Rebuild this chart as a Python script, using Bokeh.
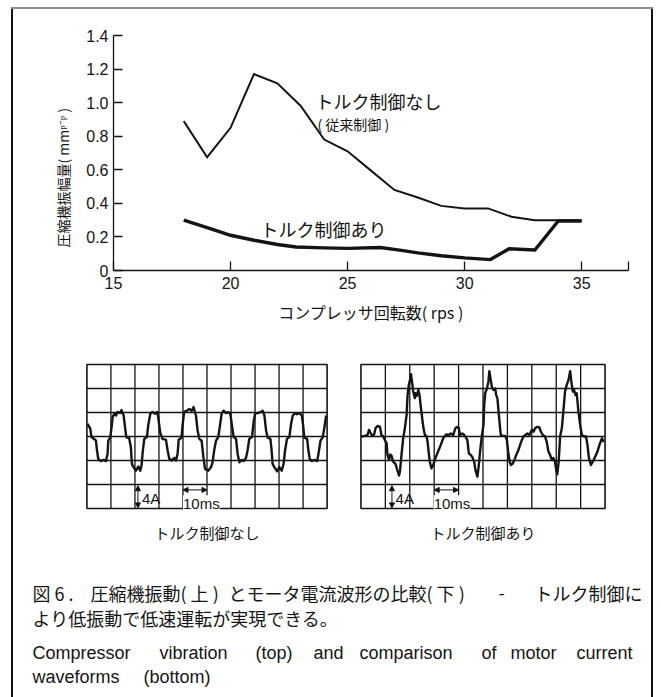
import math
from bokeh.plotting import figure
from bokeh.models import (Range1d, FixedTicker, Label, Arrow, NormalHead,
                          Spacer, PrintfTickFormatter)
from bokeh.layouts import column, row
from bokeh.embed import file_html
from bokeh.resources import INLINE

# ---------------- data ----------------
rps_no_ctrl = [18, 19, 20, 21, 22, 23, 24, 25, 26, 27, 28, 29, 30, 31, 32, 33, 34, 35]
amp_no_ctrl = [0.89, 0.675, 0.85, 1.17, 1.115, 0.98, 0.78, 0.71, 0.595, 0.48,
               0.435, 0.385, 0.37, 0.37, 0.32, 0.30, 0.30, 0.30]
rps_ctrl = [18, 19, 20, 21, 22, 22.8, 24, 25, 26.4, 27.3, 28, 29, 30, 31.1, 31.9, 33, 34, 35]
amp_ctrl = [0.30, 0.255, 0.21, 0.18, 0.155, 0.14, 0.135, 0.132, 0.137, 0.12,
            0.105, 0.088, 0.075, 0.065, 0.13, 0.122, 0.295, 0.295]
x_ticks = [15, 20, 25, 30, 35, 37]
y_ticks = [0, 0.2, 0.4, 0.6, 0.8, 1.0, 1.2, 1.4]

# oscillograms: time in ms (1 div = 10 ms), current in A (1 div = 4 A)
wave_no_ctrl_ms = [0.25, 1.4, 1.9, 3.0, 3.75, 4.2, 4.7, 5.8, 6.9, 7.9, 8.6, 8.9, 9.7, 10.3,
                   10.7, 11.4, 12.1, 12.8, 13.9, 14.4, 15.3, 15.8, 16.4, 17.6, 18.3, 18.75,
                   19.4, 20.4, 21.4, 22.2, 22.75, 23.3, 23.9, 25.0, 25.5, 26.4, 27.3, 28.3,
                   29.2, 29.7, 30.5, 31.5, 32.9, 33.6, 34.3, 35.2, 36.4, 37.1, 37.75, 38.2,
                   39.4, 39.8, 40.5, 41.7, 42.6, 43.6, 44.4, 45.4, 46.1, 46.8, 47.75, 48.5,
                   49.2, 50.5, 51.7, 52.3, 53.0, 53.75, 54.7, 55.5, 56.1, 56.9, 57.9, 58.9,
                   59.7, 60.3, 61.1, 62.1, 62.75, 63.5, 64.4, 65.3, 66.25, 66.9, 67.6, 68.75,
                   69.4, 70.0, 71.1, 72.2, 73.2, 73.9, 74.6, 75.25, 76.4, 76.9, 77.3, 78.0,
                   79.2, 80.1, 81.1, 81.9, 82.5, 83.3, 84.3, 85.0, 85.7, 86.7, 87.5, 88.5,
                   89.5, 90.1, 90.5, 91.7, 92.2, 92.75, 93.6, 94.75, 95.9, 96.4, 97.25, 98.2,
                   98.9, 99.6]
wave_no_ctrl_A = [2.1, 1.3, -0.1, -0.4, -0.7, -2.3, -3.7, -4.1, -3.9, -4.1, -2.9, -0.7, -0.2, 1.6,
                  3.2, 3.8, 3.5, 4.1, 3.9, 4.4, 3.5, 1.8, -0.1, -0.3, -1.8, -4.6,
                  -5.1, -5.7, -5.0, -5.7, -4.8, -2.3, -0.4, -0.1, 1.8, 3.8, 4.1, 3.8,
                  4.1, 3.2, 0.7, -0.4, -0.55, -2.3, -3.7, -4.0, -3.55, -4.0, -2.9, -0.55,
                  -0.2, 1.8, 4.1, 4.3, 4.6, 4.3, 4.9, 3.5, 1.0, -0.4, -0.7, -3.45,
                  -5.4, -5.7, -5.1, -4.3, -2.3, -0.7, -0.1, 2.1, 3.8, 4.3, 3.9, 4.05,
                  3.8, 2.1, -0.1, -0.4, -2.9, -4.3, -3.9, -4.1, -3.55, -2.3, -0.4, -0.1,
                  2.4, 3.8, 3.9, 4.05, 4.3, 3.5, 1.0, -0.2, -0.4, -2.3, -4.55, -5.1,
                  -5.8, -5.1, -5.7, -4.55, -2.3, -0.4, -0.1, 2.1, 3.5, 3.9, 3.7, 3.9,
                  3.5, 1.55, -0.2, -0.4, -2.3, -3.7, -4.1, -3.9, -4.1, -2.9, -0.7, -0.1,
                  1.55, 3.5]

wave_ctrl_ms = [0.25, 1.6, 2.7, 3.3, 4.1, 4.6, 5.4, 6.0, 6.8, 7.8, 8.4, 9.1, 9.8, 10.5,
                10.9, 11.5, 12.0, 12.5, 13.2, 14.2, 15.0, 15.6, 16.0, 16.6, 17.3, 18.0,
                18.7, 19.1, 19.6, 20.1, 20.5, 21.0, 21.4, 22.1, 22.35, 22.9, 23.5, 24.0,
                24.6, 25.1, 25.6, 26.2, 26.9, 27.3, 27.8, 28.2, 28.9, 29.6, 30.5, 31.6,
                32.7, 33.7, 34.4, 35.0, 36.0, 36.8, 37.8, 38.7, 39.5, 40.1, 40.5, 41.5,
                42.3, 42.8, 43.6, 44.2, 45.0, 45.6, 46.4, 46.9, 47.7, 48.3, 48.8, 49.5,
                50.2, 50.5, 50.9, 51.6, 52.2, 52.6, 53.2, 53.6, 54.3, 55.0, 55.4, 55.9,
                56.5, 57.0, 57.3, 58.1, 59.1, 59.8, 60.3, 60.9, 61.4, 62.2, 62.9, 63.6,
                64.5, 65.2, 65.9, 66.6, 67.4, 68.2, 69.0, 70.0, 70.7, 71.4, 72.3, 73.1,
                73.7, 74.5, 75.4, 76.1, 76.8, 77.5, 78.2, 78.8, 79.5, 79.9, 80.4, 81.0,
                81.6, 82.3, 82.9, 83.6, 84.3, 85.0, 85.7, 86.2, 86.8, 87.3, 87.9, 88.4,
                89.1, 89.8, 90.5, 91.4, 92.2, 92.8, 93.4, 94.2, 95.0, 95.9, 96.9, 97.7,
                98.7, 99.4]
wave_ctrl_A = [0.0, 0.1, 0.25, 1.1, 0.5, 0.1, 0.35, 1.4, 1.75, 1.6, 0.25, 0.0, -0.6, -1.1,
               -3.1, -3.9, -3.0, -3.2, -4.2, -4.6, -5.75, -6.5, -5.75, -3.1, -0.3, 1.4,
               3.6, 6.9, 8.6, 9.4, 10.4, 8.9, 7.5, 6.4, 7.2, 6.8, 7.75, 6.9,
               4.7, 3.0, 1.4, 0.25, 0.0, -0.9, -2.8, -4.2, -5.3, -4.75, -3.6, -2.5,
               -1.4, -0.3, 0.1, 0.35, 0.25, 0.5, 0.25, 1.4, 1.6, 1.4, 0.25, 0.5,
               0.25, 0.0, -0.6, -2.8, -3.1, -3.4, -4.2, -5.6, -6.7, -4.75, -2.5, 0.0,
               1.9, 5.25, 7.2, 8.0, 9.1, 10.9, 9.4, 8.3, 7.75, 8.0, 6.9, 6.4,
               3.6, 1.4, 0.25, 0.1, 0.1, -0.6, -2.5, -4.2, -4.75, -4.5, -3.9, -3.1,
               -2.25, -1.4, -0.6, 0.0, 0.25, 0.5, 0.25, 1.1, 0.8, 1.4, 1.6, 1.5,
               0.8, 0.25, 0.0, -0.9, -2.5, -3.1, -3.9, -3.6, -4.2, -5.3, -6.3, -4.2,
               0.0, 1.4, 4.1, 7.5, 8.6, 9.4, 10.9, 9.1, 7.5, 7.75, 6.9, 7.2,
               4.1, 1.9, 0.25, 0.0, 0.0, -1.4, -3.6, -4.75, -4.2, -3.4, -2.5, -1.4,
               -0.3, -0.9]

panel_ms = [0, 100]                # screen width: 10 divisions of 10 ms
panel_A = [-12, 12]                # screen height: 6 divisions of 4 A
time_grid_ms = [10, 20, 30, 40, 50, 60, 70, 80, 90]
current_grid_A = [-8, -4, 0, 4, 8]

label_no_ctrl = "トルク制御なし"
label_no_ctrl_sub = "( 従来制御 )"
label_ctrl = "トルク制御あり"
x_title = "コンプレッサ回転数( rps )"
y_title = "圧縮機振幅量( mmᵖ⁻ᵖ )"
scale_A = "4A"
scale_ms = "10ms"
caption_ja_1_parts = ["図 6 .", "圧縮機振動( 上 )", "とモータ電流波形の比較( 下 )", "-", "トルク制御に"]
caption_ja_2 = "より低振動で低速運転が実現できる。"
caption_en_1 = "Compressor vibration (top) and comparison of motor current"
caption_en_2 = "waveforms (bottom)"

INK = "#141414"
GRAY = "#8c8c8c"
JP = "Noto Sans CJK JP"
LAT = "Liberation Sans"
W = 638          # inner width between the frame lines


def base(width, height, xr, yr, **kw):
    p = figure(width=width, height=height, x_range=xr, y_range=yr,
               output_backend="svg", toolbar_location=None, **kw)
    p.background_fill_color = "white"
    p.border_fill_color = "white"
    return p


def put(p, x, y, txt, font, size, align="left", angle=0.0):
    p.add_layout(Label(x=x, y=y, text=txt, text_font=font, text_font_size=size,
                       text_color=INK, text_baseline="middle", text_align=align,
                       angle=angle))


# ---------------- main chart ----------------
HA = 344
WY = 70
# narrow panel holding the rotated y title (coordinates = page pixels)
pY = base(WY, HA, Range1d(13, 13 + WY), Range1d(270, 35),
          min_border_left=0, min_border_right=0, min_border_top=26, min_border_bottom=83,
          x_axis_location=None, y_axis_location=None)
pY.center = []
pY.outline_line_color = None
put(pY, 62, 247, y_title, JP, "14px", angle=math.pi / 2)

pA = base(W - WY, HA, Range1d(15, 37), Range1d(0, 1.4),
          min_border_left=30, min_border_right=23,
          min_border_top=26, min_border_bottom=83)
pA.outline_line_color = None
pA.grid.visible = False

pA.xaxis.ticker = FixedTicker(ticks=x_ticks)
pA.xaxis.major_label_overrides = {37: ""}
pA.yaxis.ticker = FixedTicker(ticks=y_ticks)
pA.yaxis.formatter = PrintfTickFormatter(format="%.1f")
pA.yaxis.major_label_overrides = {0: "0"}
for ax in (pA.xaxis[0], pA.yaxis[0]):
    ax.major_tick_in = 9
    ax.major_tick_out = 0
    ax.minor_tick_in = 0
    ax.minor_tick_out = 0
    ax.axis_line_color = INK
    ax.axis_line_width = 1.3
    ax.major_tick_line_color = INK
    ax.major_tick_line_width = 1.3
    ax.major_label_text_font = LAT
    ax.major_label_text_font_size = "16px"
    ax.major_label_text_color = INK
    ax.axis_label_text_font = JP
    ax.axis_label_text_font_style = "normal"
    ax.axis_label_text_color = INK
pA.xaxis.major_label_standoff = 6
pA.yaxis.major_label_standoff = 5
pA.xaxis.axis_label = x_title
pA.xaxis.axis_label_text_font_size = "16px"
pA.xaxis.axis_label_standoff = 8

pA.line(rps_no_ctrl, amp_no_ctrl, line_color=INK, line_width=2.0, line_join="miter")
pA.line(rps_ctrl, amp_ctrl, line_color=INK, line_width=3.4, line_join="miter")

pA.add_layout(Label(x=23.63, y=1.007, text=label_no_ctrl, text_font=JP,
                    text_font_size="18px", text_color=INK, text_baseline="middle"))
pA.add_layout(Label(x=23.71, y=0.873, text=label_no_ctrl_sub, text_font=JP,
                    text_font_size="14px", text_color=INK, text_baseline="middle"))
pA.add_layout(Label(x=21.28, y=0.245, text=label_ctrl, text_font=JP,
                    text_font_size="18px", text_color=INK, text_baseline="middle"))


# ---------------- oscillograms ----------------
HB = 200


def scope(width, mbl, fw, t_ms, cur_A, arrow_x, arrow_ms0, txtA_x, txt_ms_x, name):
    p = base(width, HB, Range1d(-1, 101), Range1d(-19.5, 12.5),
             min_border_left=mbl, min_border_right=width - mbl - fw,
             min_border_top=8, min_border_bottom=0,
             x_axis_location=None, y_axis_location=None)
    p.center = []
    p.outline_line_color = None
    nx, ny = len(time_grid_ms), len(current_grid_A)
    p.segment(x0=time_grid_ms, y0=[panel_A[0]] * nx, x1=time_grid_ms, y1=[panel_A[1]] * nx,
              line_color=INK, line_width=1.3)
    p.segment(x0=[panel_ms[0]] * ny, y0=current_grid_A, x1=[panel_ms[1]] * ny, y1=current_grid_A,
              line_color=INK, line_width=1.3)
    p.quad(left=[panel_ms[0]], right=[panel_ms[1]], bottom=[panel_A[0]], top=[panel_A[1]],
           fill_color=None, line_color=INK, line_width=1.6)
    p.line(t_ms, cur_A, line_color=INK, line_width=2.4, line_join="round")
    p.add_layout(Arrow(x_start=arrow_x, y_start=-8.2, x_end=arrow_x, y_end=-11.9,
                       line_color=INK, line_width=1,
                       start=NormalHead(size=5, fill_color=INK, line_color=INK),
                       end=NormalHead(size=5, fill_color=INK, line_color=INK)))
    p.add_layout(Arrow(x_start=arrow_ms0, y_start=-8.9, x_end=arrow_ms0 + 10, y_end=-8.9,
                       line_color=INK, line_width=1,
                       start=NormalHead(size=5, fill_color=INK, line_color=INK),
                       end=NormalHead(size=5, fill_color=INK, line_color=INK)))
    p.add_layout(Label(x=txtA_x, y=-10.3, text=scale_A, text_font=LAT,
                       text_font_size="15px", text_color=INK, text_baseline="middle"))
    p.add_layout(Label(x=txt_ms_x, y=-11.2, text=scale_ms, text_font=LAT,
                       text_font_size="15px", text_color=INK, text_baseline="middle",
                       background_fill_color="white", background_fill_alpha=1.0))
    put(p, 50, -16, name, JP, "15px", align="center")
    return p


WL = 330
WR = W - WL
pL = scope(WL, 71, 245, wave_no_ctrl_ms, wave_no_ctrl_A, 21.25, 40, 22.9, 40.0, label_no_ctrl)
pR = scope(WR, 15, 249, wave_ctrl_ms, wave_ctrl_A, 12.7, 30, 14.2, 29.8, label_ctrl)


# ---------------- captions (coordinates: x = page x - 13, y = page y - 553) ----------------
HCAP = 144
pC = base(W, HCAP, Range1d(0, W), Range1d(HCAP, 0),
          min_border_left=0, min_border_right=0, min_border_top=0, min_border_bottom=0,
          x_axis_location=None, y_axis_location=None)
pC.center = []
pC.outline_line_color = None

ja1_x = [19, 77, 215, 485]
for x, part in zip(ja1_x, caption_ja_1_parts[:4]):
    put(pC, x, 39, part, JP, "18px")
put(pC, 629, 39, caption_ja_1_parts[4], JP, "18px", align="right")
put(pC, 19, 64, caption_ja_2, JP, "18px")

en1_x = [19, 146, 242, 300, 346, 468, 497, 563]
en2_x = [19, 130]
for x, wd in zip(en1_x, caption_en_1.split(" ")):
    put(pC, x, 99, wd, LAT, "18px")
for x, wd in zip(en2_x, caption_en_2.split(" ")):
    put(pC, x, 123, wd, LAT, "18px")


# ---------------- page frame (left/right black, top grey) ----------------
def bar(w, h, color):
    return Spacer(width=w, height=h, styles={"background-color": color})


content = column(row(pY, pA), row(pL, pR), row(pC))
HC = HA + HB + HCAP
framed = row(bar(2, HC, INK), content, bar(2, HC, INK))
page = row(Spacer(width=11, height=697),
           column(Spacer(width=W + 4, height=7), bar(W + 4, 2, GRAY), framed))

open("out.html", "w").write(file_html(page, INLINE))
